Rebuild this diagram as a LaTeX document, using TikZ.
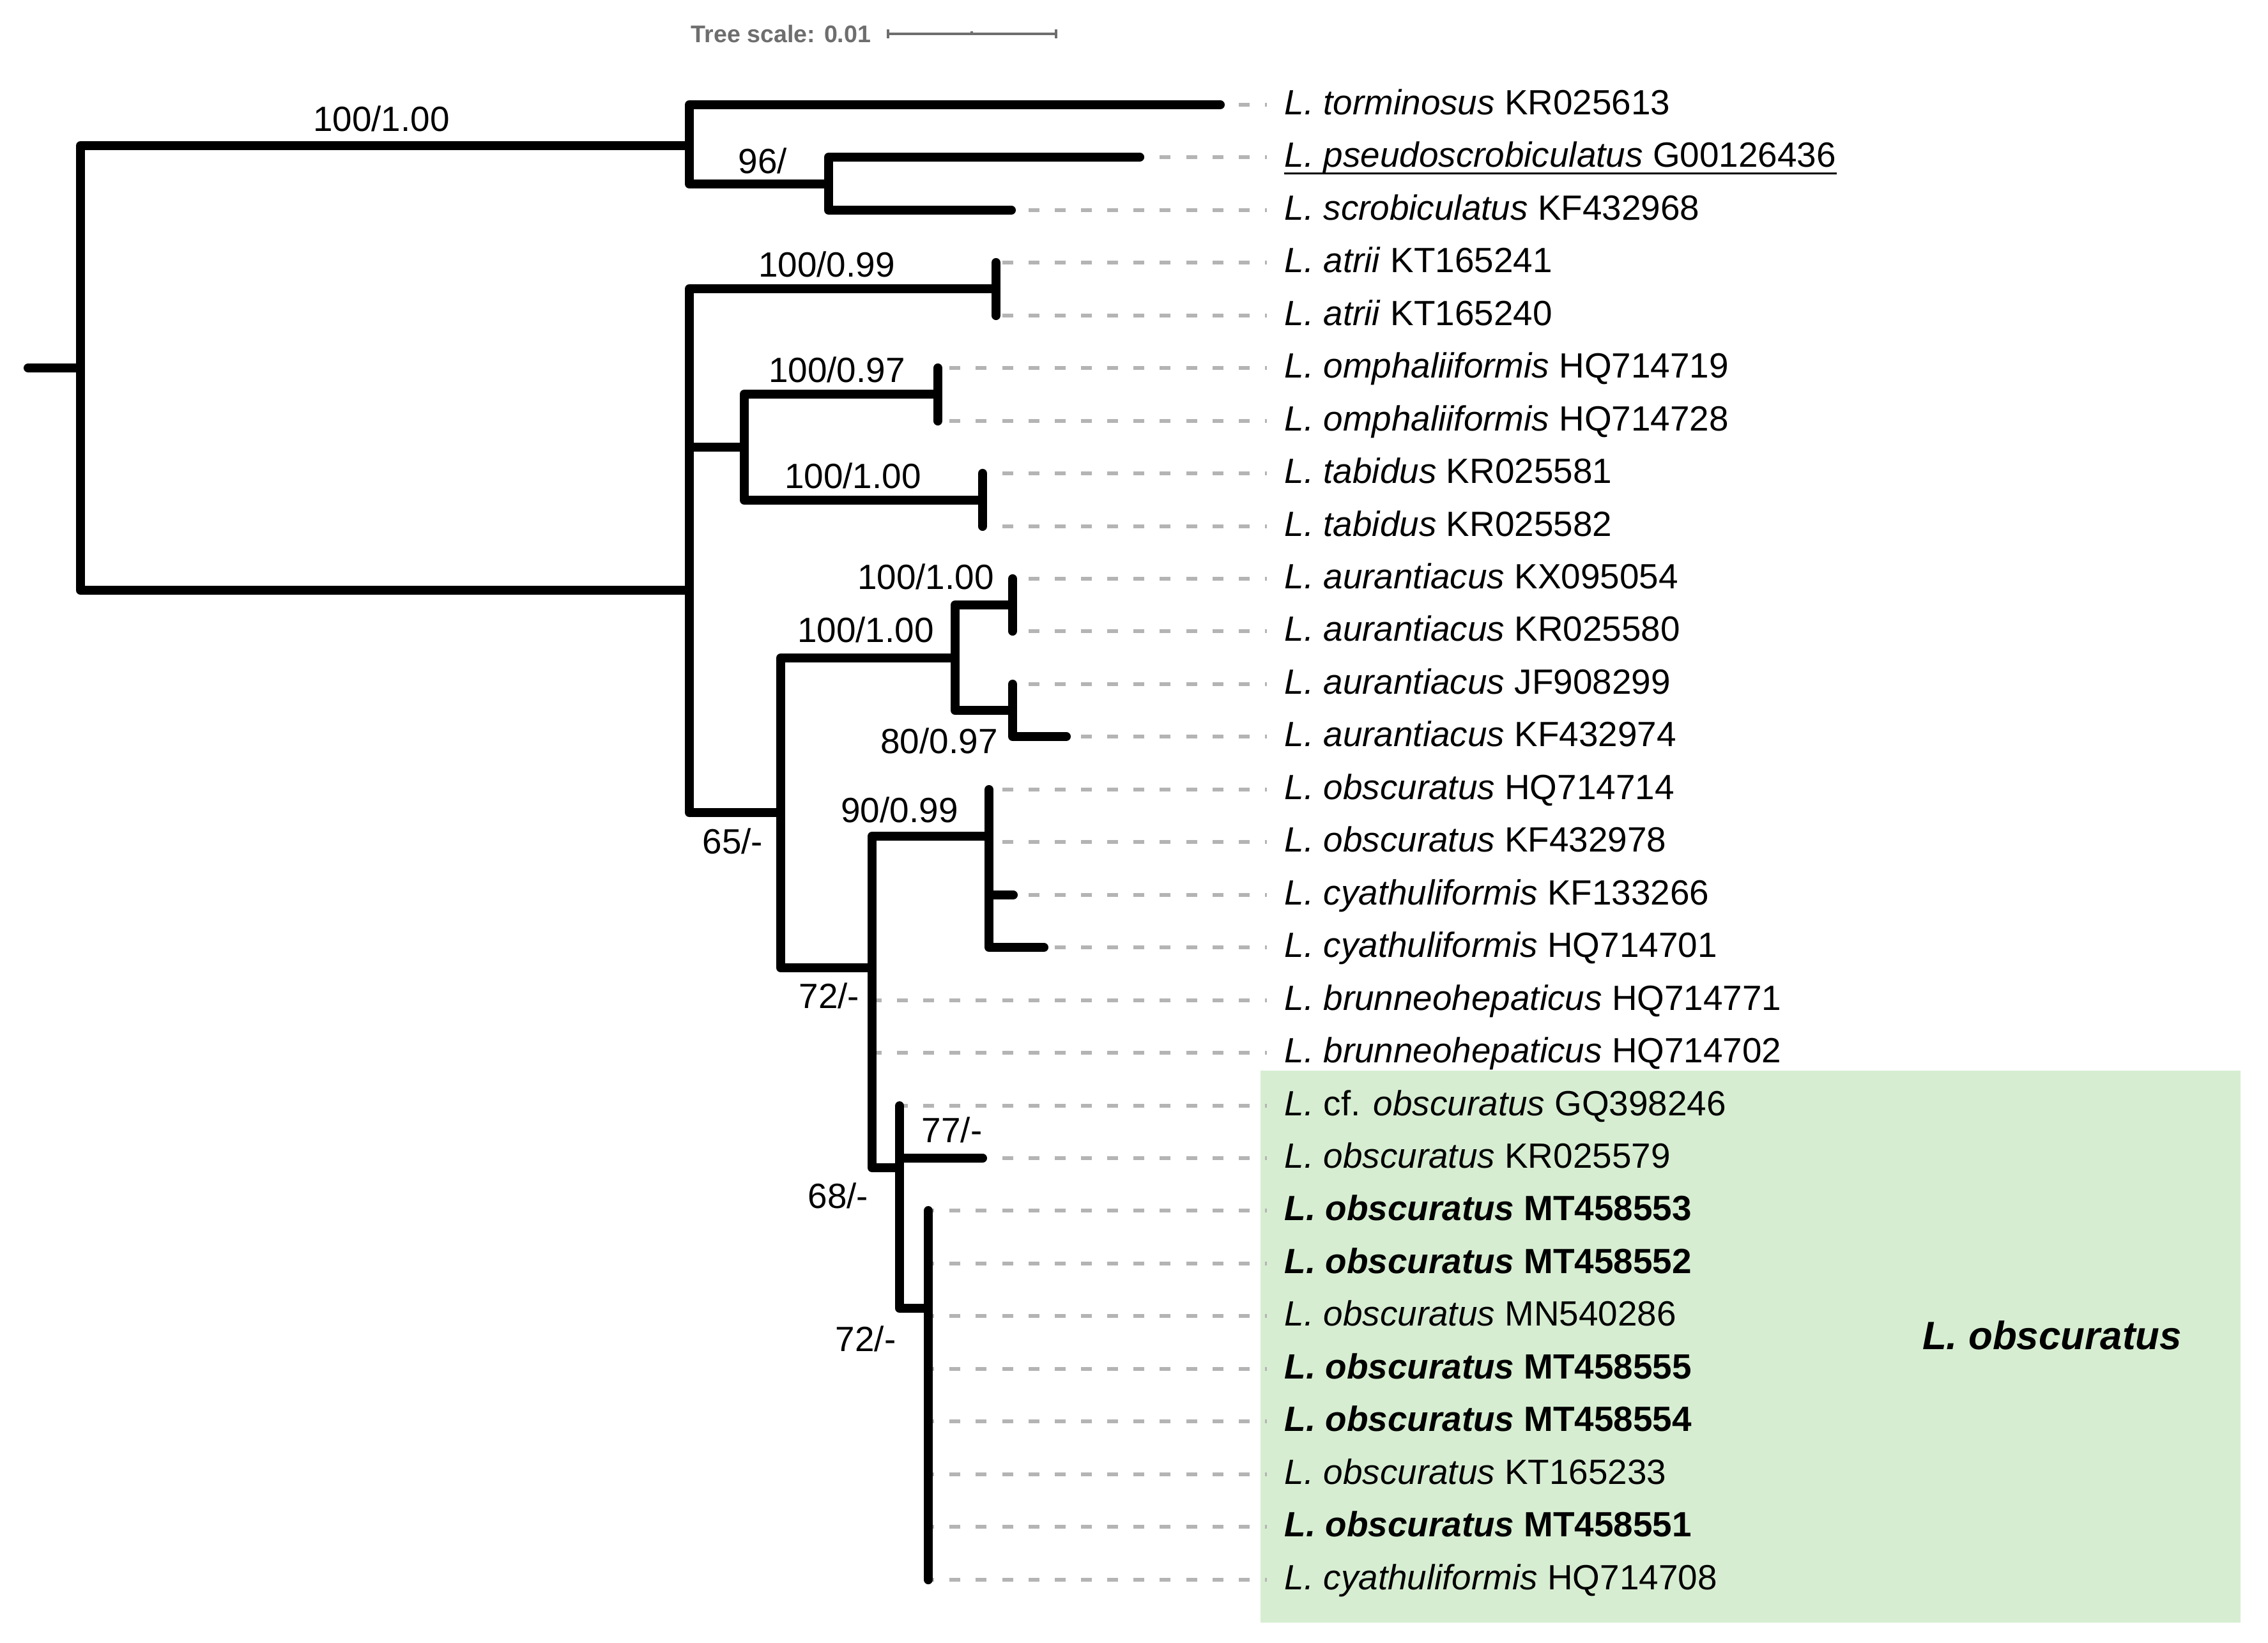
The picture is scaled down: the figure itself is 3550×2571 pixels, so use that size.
\documentclass[tikz,border=0pt]{standalone}
\usepackage{fontspec}
\setmainfont{Liberation Sans}
\definecolor{dashgrey}{RGB}{180,180,180}
\definecolor{scalegrey}{RGB}{110,110,110}
\definecolor{cladegreen}{RGB}{214,237,209}
\begin{document}
\begin{tikzpicture}[x=0.01cm,y=-0.01cm,
  br/.style={line width=4pt,line cap=round,line join=round},
  lead/.style={line width=1.56pt,dashgrey,dash pattern=on 4.84pt off 6.86pt,dash phase=3.98pt},
  leaf/.style={anchor=base west,inner sep=0pt,yshift=0.045cm,font=\fontsize{15.6pt}{18pt}\selectfont},
  sup/.style={anchor=base,inner sep=0pt,yshift=0.02cm,font=\fontsize{15.6pt}{18pt}\selectfont}]
\useasboundingbox (0,0) rectangle (3550,2571);

% clade box
\fill[cladegreen] (1973,1676) rectangle (3507,2540);
\node[anchor=base,inner sep=0pt,font=\fontsize{17.6pt}{20pt}\selectfont\bfseries\itshape] (clade) at (3212,2112) {L. obscuratus};

% tree scale
\node[anchor=base east,inner sep=0pt,text=scalegrey,font=\fontsize{10.7pt}{12pt}\selectfont\bfseries] (scaletxt) at (1364,66) {Tree scale: 0.01};
\coordinate (sb1) at (1390,53);
\coordinate (sb2) at (1653,53);
\coordinate (sbm) at (1521,53);
\draw[scalegrey,line width=1.2pt] (sb1) -- (sb2);
\draw[scalegrey,line width=1.2pt] ([yshift=0.07cm]sb1) -- ([yshift=-0.07cm]sb1);
\draw[scalegrey,line width=1.2pt] ([yshift=0.07cm]sb2) -- ([yshift=-0.07cm]sb2);
\draw[scalegrey,line width=1pt] (sbm) -- ([yshift=0.04cm]sbm);

% tips and dashed leaders
\foreach \i/\y/\x in {0/164/1910,1/246/1784,2/329/1583,3/411/1559,4/494/1559,5/576/1468,6/659/1468,7/741/1538,8/824/1538,9/906/1585,10/988/1585,11/1071/1585,12/1153/1669,13/1236/1548,14/1318/1548,15/1401/1586,16/1483/1634,17/1566/1365,18/1648/1365,19/1731/1408,20/1813/1538,21/1895/1453,22/1978/1453,23/2060/1453,24/2143/1453,25/2225/1453,26/2308/1453,27/2390/1453,28/2473/1453}{
  \coordinate (t\i) at (\x,\y);
  \coordinate (e\i) at (1983,\y);
  \draw[lead] (e\i) -- (t\i);
}

% internal nodes
\coordinate (stub) at (44,576);
\coordinate (root) at (126,576);
\coordinate (A) at (1079,228);
\coordinate (B) at (1297,288);
\coordinate (C) at (1079,924);
\coordinate (D) at (1559,452);
\coordinate (E) at (1165,700);
\coordinate (F) at (1468,617);
\coordinate (G) at (1538,783);
\coordinate (H) at (1222,1272);
\coordinate (I) at (1495,1030);
\coordinate (I1) at (1585,947);
\coordinate (I2) at (1585,1112);
\coordinate (J) at (1365,1515);
\coordinate (K) at (1548,1309);
\coordinate (L) at (1408,1828);
\coordinate (N) at (1453,2048);

% branches
\draw[br] (stub) -- (root);
\draw[br] (A) -| (root |- C) -- (C);
\draw[br] (t0) -| (A |- B) -- (B);
\draw[br] (t1) -| (B |- t2) -- (t2);
\draw[br] (D) -| (C |- H) -- (H);
\draw[br] (C |- E) -- (E);
\draw[br] (t3) -- (t4);
\draw[br] (F) -| (E |- G) -- (G);
\draw[br] (t5) -- (t6);
\draw[br] (t7) -- (t8);
\draw[br] (I) -| (H |- J) -- (J);
\draw[br] (I1) -| (I |- I2) -- (I2);
\draw[br] (t9) -- (t10);
\draw[br] (t11) -- (I2 |- t12) -- (t12);
\draw[br] (K) -| (J |- L) -- (L);
\draw[br] (t13) -- (K |- t16) -- (t16);
\draw[br] (K |- t15) -- (t15);
\draw[br] (t19) -- (L |- N) -- (N);
\draw[br] (L |- t20) -- (t20);
\draw[br] (t21) -- (t28);

% support values
\node[sup] (s1) at (597,207) {100/1.00};
\node[sup] (s2) at (1194,273) {96/};
\node[sup] (s3) at (1294,435) {100/0.99};
\node[sup] (s4) at (1310,600) {100/0.97};
\node[sup] (s5) at (1335,766) {100/1.00};
\node[sup] (s6) at (1449,924) {100/1.00};
\node[sup] (s7) at (1355,1007) {100/1.00};
\node[sup] (s8) at (1470,1181) {80/0.97};
\node[sup] (s9) at (1408,1289) {90/0.99};
\node[sup] (s10) at (1147,1338) {65/-};
\node[sup] (s11) at (1298,1580) {72/-};
\node[sup] (s12) at (1490,1790) {77/-};
\node[sup] (s13) at (1312,1893) {68/-};
\node[sup] (s14) at (1355,2117) {72/-};

% leaf labels
\node[leaf] (l0) at (2010,184) {\textit{L. torminosus} KR025613};
\node[leaf] (l1) at (2010,266) {\textit{L. pseudoscrobiculatus} G00126436};
\draw[line width=0.9pt] ([yshift=-0.1cm]l1.base west) -- ([yshift=-0.1cm]l1.base east);
\node[leaf] (l2) at (2010,349) {\textit{L. scrobiculatus} KF432968};
\node[leaf] (l3) at (2010,431) {\textit{L. atrii} KT165241};
\node[leaf] (l4) at (2010,514) {\textit{L. atrii} KT165240};
\node[leaf] (l5) at (2010,596) {\textit{L. omphaliiformis} HQ714719};
\node[leaf] (l6) at (2010,679) {\textit{L. omphaliiformis} HQ714728};
\node[leaf] (l7) at (2010,761) {\textit{L. tabidus} KR025581};
\node[leaf] (l8) at (2010,844) {\textit{L. tabidus} KR025582};
\node[leaf] (l9) at (2010,926) {\textit{L. aurantiacus} KX095054};
\node[leaf] (l10) at (2010,1008) {\textit{L. aurantiacus} KR025580};
\node[leaf] (l11) at (2010,1091) {\textit{L. aurantiacus} JF908299};
\node[leaf] (l12) at (2010,1173) {\textit{L. aurantiacus} KF432974};
\node[leaf] (l13) at (2010,1256) {\textit{L. obscuratus} HQ714714};
\node[leaf] (l14) at (2010,1338) {\textit{L. obscuratus} KF432978};
\node[leaf] (l15) at (2010,1421) {\textit{L. cyathuliformis} KF133266};
\node[leaf] (l16) at (2010,1503) {\textit{L. cyathuliformis} HQ714701};
\node[leaf] (l17) at (2010,1586) {\textit{L. brunneohepaticus} HQ714771};
\node[leaf] (l18) at (2010,1668) {\textit{L. brunneohepaticus} HQ714702};
\node[leaf] (l19) at (2010,1751) {\textit{L.} cf. \textit{obscuratus} GQ398246};
\node[leaf] (l20) at (2010,1833) {\textit{L. obscuratus} KR025579};
\node[leaf] (l21) at (2010,1915) {\textbf{\textit{L. obscuratus} MT458553}};
\node[leaf] (l22) at (2010,1998) {\textbf{\textit{L. obscuratus} MT458552}};
\node[leaf] (l23) at (2010,2080) {\textit{L. obscuratus} MN540286};
\node[leaf] (l24) at (2010,2163) {\textbf{\textit{L. obscuratus} MT458555}};
\node[leaf] (l25) at (2010,2245) {\textbf{\textit{L. obscuratus} MT458554}};
\node[leaf] (l26) at (2010,2328) {\textit{L. obscuratus} KT165233};
\node[leaf] (l27) at (2010,2410) {\textbf{\textit{L. obscuratus} MT458551}};
\node[leaf] (l28) at (2010,2493) {\textit{L. cyathuliformis} HQ714708};
\end{tikzpicture}
\end{document}
